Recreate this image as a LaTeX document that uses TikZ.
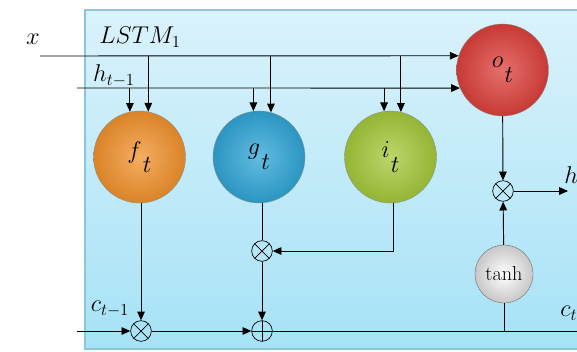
\documentclass[tikz,border=0pt]{standalone}
\usepackage{amsmath}
\usetikzlibrary{positioning,arrows.meta}
\usepackage{xcolor}

\definecolor{bgtop}{HTML}{DAF2FB}
\definecolor{bgbot}{HTML}{A6E2F6}
\definecolor{boxline}{HTML}{8CC6D8}
\definecolor{forange}{HTML}{F2922C}
\definecolor{gblue}{HTML}{2FA6D6}
\definecolor{igreen}{HTML}{A4C93A}
\definecolor{ored}{HTML}{DD403B}
\newcommand\gatelbl[1]{$#1$\kern1pt\raisebox{-1.4ex}{$t$}}

\begin{document}
\begin{tikzpicture}[x=0.03cm,y=-0.03cm,line width=0.8pt,
  >={Triangle[length=7.5pt,width=6.5pt]},
  gate/.style={circle,draw=black!45,line width=0.3pt,minimum size=2.76cm,inner sep=0pt,font=\huge,shading=radial},
  op/.style={circle,draw,line width=0.6pt,minimum size=0.62cm,inner sep=0pt},
  mult/.style={op,path picture={\draw[line width=0.6pt] (path picture bounding box.north west) -- (path picture bounding box.south east) (path picture bounding box.north east) -- (path picture bounding box.south west);}},
  sum/.style={op,path picture={\draw[line width=0.6pt] (path picture bounding box.north) -- (path picture bounding box.south) (path picture bounding box.east) -- (path picture bounding box.west);}},
  lbl/.style={font=\huge}]
\clip (0,0) rectangle (577,351);
\fill[white] (0,0) rectangle (577,351);
\shade[top color=bgtop,bottom color=bgbot,draw=boxline,line width=1pt] (85,10) rectangle (600,349);

% gates
\node[gate,inner color=forange!75!white,outer color=forange!90!black] (f) at (139.5,157) {\gatelbl{f}};
\node[gate,inner color=gblue!75!white,outer color=gblue!90!black] (g) at (259,157) {\gatelbl{g}};
\node[gate,inner color=igreen!75!white,outer color=igreen!90!black] (i) at (390.5,157) {\gatelbl{i}};
\node[gate,inner color=ored!75!white,outer color=ored!90!black] (o) at (502.5,70) {\gatelbl{o}};
\node[gate,minimum size=1.74cm,font=\LARGE,inner color=white,outer color=black!22,draw=black!60] (th) at (504,274) {tanh};

% ops
\node[mult] (mf) at (141,331) {};
\node[mult] (mg) at (262,251) {};
\node[sum] (pl) at (262,331) {};
\node[mult] (mh) at (503,191) {};

% ends
\coordinate (xin) at (40,56);
\coordinate (hin) at (77,88);
\coordinate (cin) at (77,331);
\coordinate (hout) at (568,191);
\coordinate (cout) at (590,331);

% labels
\node[lbl] (xl) at (33,39) {$x$};
\node[lbl] (lstm) at (140,37) {$LSTM_1$};
\node[lbl] (hl) at (114,76) {$h_{t-1}$};
\node[lbl] (cl) at (110,309) {$c_{t-1}$};
\node[lbl,anchor=west] (hol) at (560,177) {$h_t$};
\node[lbl,anchor=west] (col) at (556,313) {$c_t$};

% inputs
\draw[->] (xin) -- (o.162);
\draw[->] (hin) -- (o.203);
\draw[->] (f.79 |- xin) -- (f.79);
\draw[->] (f.102 |- hin) -- (f.102);
\draw[->] (g.75 |- xin) -- (g.75);
\draw[->] (g.97 |- hin) -- (g.97);
\draw[->] (i.77 |- xin) -- (i.77);
\draw[->] (i.98 |- hin) -- (i.98);

% cell
\draw[->] (f.south -| mf) -- (mf);
\draw[->] (cin) -- (mf);
\draw[->] (mf) -- (pl);
\draw (g.south -| mg) -- (mg);
\draw[->] (mg) -- (pl);
\draw[->] (i.south -| 393,0) |- (mg);
\draw (pl) -- (cout);
\draw (th) -- (th |- cout);
\draw[->] (th) -- (mh);
\draw[->] (o) -- (mh);
\draw[->] (mh) -- (hout);
\end{tikzpicture}
\end{document}
